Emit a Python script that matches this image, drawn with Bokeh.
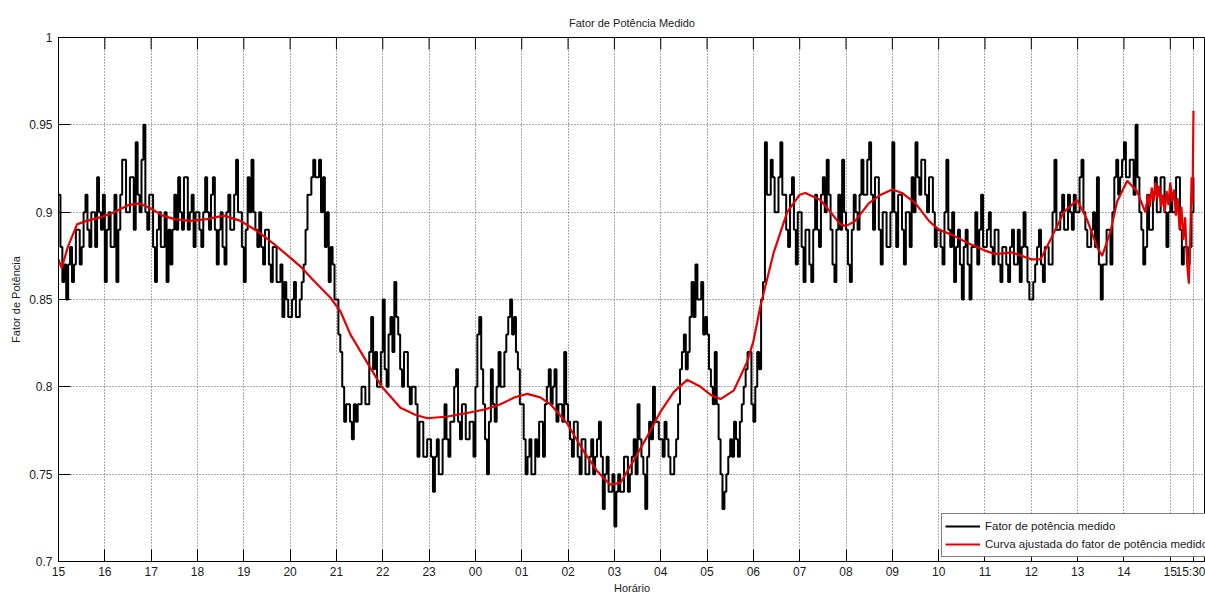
from bokeh.plotting import figure
from bokeh.models import FixedTicker, Legend, LegendItem, Range1d
from bokeh.embed import file_html
from bokeh.resources import INLINE

# ---------------- data ----------------
# Measured power factor, one reading every 2.5 minutes from 15:00 to 15:30 next day
sample_minutes = 2.5
fp_medido = [
    # 15h
    0.91, 0.88, 0.86, 0.87, 0.85, 0.87, 0.88, 0.86, 0.87, 0.89, 0.89, 0.87,
    0.88, 0.90, 0.91, 0.89, 0.88, 0.90, 0.90, 0.88, 0.92, 0.90, 0.89, 0.91,
    # 16h
    0.86, 0.89, 0.90, 0.88, 0.88, 0.91, 0.86, 0.89, 0.91, 0.93, 0.93, 0.90,
    0.90, 0.92, 0.92, 0.89, 0.94, 0.91, 0.90, 0.93, 0.95, 0.90, 0.89, 0.91,
    # 17h
    0.91, 0.88, 0.86, 0.89, 0.90, 0.88, 0.88, 0.90, 0.86, 0.89, 0.87, 0.89,
    0.91, 0.89, 0.92, 0.90, 0.89, 0.92, 0.92, 0.89, 0.90, 0.91, 0.88, 0.90,
    # 18h
    0.90, 0.89, 0.88, 0.90, 0.92, 0.90, 0.89, 0.91, 0.92, 0.89, 0.87, 0.89,
    0.90, 0.88, 0.87, 0.90, 0.91, 0.89, 0.89, 0.91, 0.93, 0.90, 0.90, 0.88,
    # 19h
    0.86, 0.89, 0.92, 0.90, 0.93, 0.90, 0.89, 0.88, 0.90, 0.88, 0.87, 0.89,
    0.89, 0.87, 0.86, 0.88, 0.88, 0.86, 0.86, 0.87, 0.84, 0.86, 0.85, 0.84,
    # 20h
    0.84, 0.85, 0.86, 0.84, 0.84, 0.85, 0.86, 0.87, 0.89, 0.91, 0.91, 0.92,
    0.93, 0.92, 0.92, 0.93, 0.90, 0.92, 0.88, 0.90, 0.86, 0.88, 0.87, 0.85,
    # 21h
    0.85, 0.83, 0.82, 0.80, 0.78, 0.79, 0.79, 0.78, 0.77, 0.79, 0.78, 0.79,
    0.79, 0.80, 0.80, 0.79, 0.79, 0.82, 0.84, 0.81, 0.82, 0.80, 0.80, 0.82,
    # 22h
    0.85, 0.81, 0.80, 0.83, 0.84, 0.82, 0.86, 0.84, 0.83, 0.81, 0.80, 0.82,
    0.82, 0.80, 0.79, 0.80, 0.80, 0.79, 0.76, 0.78, 0.78, 0.76, 0.76, 0.77,
    # 23h
    0.77, 0.76, 0.74, 0.76, 0.77, 0.75, 0.75, 0.77, 0.79, 0.77, 0.76, 0.78,
    0.78, 0.80, 0.81, 0.78, 0.77, 0.79, 0.79, 0.77, 0.77, 0.78, 0.78, 0.76,
    # 00h
    0.80, 0.83, 0.84, 0.81, 0.79, 0.77, 0.75, 0.78, 0.81, 0.79, 0.78, 0.80,
    0.82, 0.80, 0.80, 0.82, 0.83, 0.84, 0.85, 0.83, 0.84, 0.82, 0.81, 0.79,
    # 01h
    0.79, 0.77, 0.75, 0.76, 0.77, 0.75, 0.75, 0.77, 0.76, 0.78, 0.78, 0.76,
    0.79, 0.80, 0.81, 0.79, 0.80, 0.81, 0.78, 0.79, 0.79, 0.78, 0.82, 0.79,
    # 02h
    0.78, 0.77, 0.76, 0.78, 0.78, 0.76, 0.75, 0.77, 0.77, 0.75, 0.75, 0.76,
    0.77, 0.75, 0.76, 0.77, 0.78, 0.76, 0.73, 0.75, 0.76, 0.74, 0.74, 0.75,
    # 03h
    0.72, 0.74, 0.75, 0.74, 0.74, 0.76, 0.76, 0.74, 0.75, 0.76, 0.77, 0.75,
    0.79, 0.77, 0.76, 0.75, 0.73, 0.76, 0.78, 0.77, 0.80, 0.78, 0.78, 0.77,
    # 04h
    0.77, 0.76, 0.78, 0.77, 0.76, 0.75, 0.75, 0.76, 0.77, 0.79, 0.81, 0.82,
    0.83, 0.81, 0.82, 0.84, 0.86, 0.84, 0.87, 0.85, 0.85, 0.86, 0.83, 0.84,
    # 05h
    0.83, 0.81, 0.80, 0.79, 0.82, 0.79, 0.77, 0.75, 0.73, 0.74, 0.75, 0.76,
    0.77, 0.76, 0.78, 0.77, 0.76, 0.78, 0.79, 0.80, 0.81, 0.82, 0.82, 0.79,
    # 06h
    0.78, 0.80, 0.82, 0.81, 0.85, 0.86, 0.94, 0.91, 0.91, 0.93, 0.92, 0.90,
    0.90, 0.92, 0.94, 0.91, 0.91, 0.89, 0.88, 0.91, 0.92, 0.89, 0.87, 0.90,
    # 07h
    0.90, 0.88, 0.86, 0.89, 0.89, 0.87, 0.86, 0.89, 0.91, 0.89, 0.88, 0.91,
    0.92, 0.90, 0.93, 0.91, 0.89, 0.87, 0.86, 0.89, 0.91, 0.89, 0.93, 0.90,
    # 08h
    0.89, 0.87, 0.86, 0.89, 0.91, 0.90, 0.89, 0.91, 0.93, 0.91, 0.91, 0.93,
    0.94, 0.91, 0.89, 0.92, 0.92, 0.89, 0.87, 0.90, 0.90, 0.88, 0.88, 0.90,
    # 09h
    0.94, 0.90, 0.88, 0.91, 0.91, 0.89, 0.87, 0.90, 0.90, 0.88, 0.92, 0.90,
    0.94, 0.92, 0.91, 0.93, 0.93, 0.91, 0.90, 0.92, 0.92, 0.90, 0.88, 0.89,
    # 10h
    0.89, 0.88, 0.87, 0.90, 0.93, 0.89, 0.88, 0.90, 0.86, 0.88, 0.89, 0.87,
    0.85, 0.88, 0.89, 0.87, 0.85, 0.88, 0.88, 0.90, 0.87, 0.89, 0.91, 0.88,
    # 11h
    0.88, 0.89, 0.90, 0.88, 0.87, 0.89, 0.89, 0.87, 0.86, 0.88, 0.88, 0.87,
    0.86, 0.88, 0.89, 0.87, 0.87, 0.89, 0.86, 0.88, 0.90, 0.88, 0.86, 0.85,
    # 12h
    0.85, 0.86, 0.87, 0.88, 0.89, 0.87, 0.86, 0.88, 0.88, 0.87, 0.87, 0.90,
    0.93, 0.89, 0.89, 0.90, 0.91, 0.89, 0.89, 0.91, 0.90, 0.89, 0.91, 0.90,
    # 13h
    0.90, 0.92, 0.93, 0.90, 0.89, 0.88, 0.88, 0.89, 0.90, 0.88, 0.92, 0.87,
    0.85, 0.87, 0.87, 0.89, 0.89, 0.87, 0.90, 0.92, 0.93, 0.91, 0.92, 0.93,
    # 14h
    0.94, 0.92, 0.92, 0.93, 0.93, 0.91, 0.95, 0.92, 0.90, 0.89, 0.87, 0.88,
    0.91, 0.89, 0.89, 0.91, 0.92, 0.90, 0.90, 0.92, 0.92, 0.90, 0.88, 0.90,
    # 15h - 15:30
    0.91, 0.90, 0.90, 0.92, 0.92, 0.89, 0.87, 0.88, 0.88, 0.87, 0.88, 0.90,
    0.92,
]
fp_hours = [i * sample_minutes / 60 for i in range(len(fp_medido))]

# Fitted curve (hours elapsed since 15:00, value)
curva_hours = [
    0.0, 0.07, 0.2, 0.4, 0.6, 0.9, 1.2, 1.5, 1.75, 2.0, 2.25, 2.5, 2.85, 3.2, 3.57,
    3.93, 4.3, 4.64, 5.0, 5.22, 5.5, 5.87, 6.09, 6.3, 6.66, 6.98, 7.38, 7.7, 7.96,
    8.4, 8.82, 9.2, 9.54, 9.85, 10.12, 10.4, 10.62, 10.98, 11.34, 11.62, 11.91,
    12.13, 12.42, 12.78, 13.0, 13.28, 13.57, 13.86, 14.1, 14.29, 14.58, 14.86, 15.0,
    15.15, 15.44, 15.73, 16.0, 16.12, 16.45, 16.88, 17.0, 17.2, 17.49, 17.75, 18.0,
    18.21, 18.5, 18.79, 19.0, 19.29, 19.65, 20.0, 20.22, 20.58, 21.0, 21.2, 21.41,
    21.7, 21.99, 22.2, 22.42, 22.53, 22.71, 22.85, 23.07, 23.28, 23.46,
    23.52, 23.56, 23.60, 23.64, 23.68, 23.72, 23.76, 23.80, 23.84, 23.88, 23.92,
    23.96, 24.00, 24.04, 24.08, 24.12, 24.16, 24.20, 24.24, 24.28, 24.32, 24.36,
    24.40, 24.43, 24.46, 24.48, 24.50,
]
curva_values = [
    0.873, 0.868, 0.880, 0.893, 0.895, 0.897, 0.900, 0.904, 0.905, 0.902, 0.898,
    0.896, 0.895, 0.896, 0.898, 0.895, 0.889, 0.882, 0.874, 0.869, 0.861, 0.851,
    0.843, 0.830, 0.814, 0.800, 0.788, 0.784, 0.782, 0.783, 0.785, 0.787, 0.790,
    0.794, 0.796, 0.794, 0.790, 0.779, 0.763, 0.752, 0.744, 0.745, 0.758, 0.775,
    0.786, 0.797, 0.804, 0.800, 0.795, 0.793, 0.798, 0.814, 0.826, 0.846, 0.877,
    0.900, 0.910, 0.911, 0.907, 0.893, 0.892, 0.895, 0.905, 0.910, 0.913, 0.911,
    0.905, 0.895, 0.890, 0.887, 0.882, 0.878, 0.876, 0.877, 0.873, 0.873, 0.884,
    0.900, 0.907, 0.896, 0.880, 0.875, 0.889, 0.906, 0.918, 0.912, 0.900,
    0.910, 0.903, 0.914, 0.906, 0.917, 0.908, 0.915, 0.903, 0.910, 0.900, 0.912,
    0.904, 0.917, 0.906, 0.913, 0.898, 0.908, 0.890, 0.903, 0.884, 0.897, 0.872,
    0.859, 0.885, 0.920, 0.905, 0.958,
]

x_tick_hours = [0, 1, 2, 3, 4, 5, 6, 7, 8, 9, 10, 11, 12, 13, 14, 15, 16, 17, 18,
                19, 20, 21, 22, 23, 24, 24.5]
x_tick_labels = ["15", "16", "17", "18", "19", "20", "21", "22", "23", "00", "01",
                 "02", "03", "04", "05", "06", "07", "08", "09", "10", "11", "12",
                 "13", "14", "15", "15:30"]
y_ticks = [0.7, 0.75, 0.8, 0.85, 0.9, 0.95, 1.0]
y_tick_labels = ["0.7", "0.75", "0.8", "0.85", "0.9", "0.95", "1"]

FONT = "'Liberation Sans', Arial, Helvetica, sans-serif"
TXT = "#1a1a1a"

# ---------------- figure ----------------
W, H = 1205, 597
BORDER_L, BORDER_T, BORDER_B = 58, 37, 36
X0, X1 = 0, 24.76
Y0, Y1 = 0.7, 1.0
TICK_PX = 12

p = figure(width=W, height=H, output_backend="svg", toolbar_location=None,
           x_range=Range1d(X0, X1), y_range=Range1d(Y0, Y1),
           min_border_left=BORDER_L, min_border_right=0, min_border_top=BORDER_T,
           min_border_bottom=BORDER_B, background_fill_color="white",
           border_fill_color="white")
p.outline_line_color = "black"
p.outline_line_width = 1

p.title.text = "Fator de Potência Medido"
p.title.align = "center"
p.title.text_font = FONT
p.title.text_font_size = "11px"
p.title.text_font_style = "normal"
p.title.text_color = TXT
p.title.standoff = 17

xt = FixedTicker(ticks=x_tick_hours)
yt = FixedTicker(ticks=y_ticks)

xa = p.xaxis[0]
xa.ticker = xt
xa.major_label_overrides = {h: l for h, l in zip(x_tick_hours, x_tick_labels)}
xa.axis_label = "Horário"
xa.major_label_standoff = 3
xa.axis_label_standoff = 0

ya = p.yaxis[0]
ya.ticker = yt
ya.major_label_overrides = {v: l for v, l in zip(y_ticks, y_tick_labels)}
ya.axis_label = "Fator de Potência"
ya.major_label_standoff = 6
ya.axis_label_standoff = 4

for ax in [xa, ya]:
    ax.axis_line_color = "black"
    ax.major_tick_line_color = "black"
    ax.major_tick_in = TICK_PX
    ax.major_tick_out = 0
    ax.minor_tick_line_color = None
    ax.major_label_text_font = FONT
    ax.major_label_text_color = TXT
    ax.major_label_text_font_size = "12px"
    ax.axis_label_text_font = FONT
    ax.axis_label_text_font_style = "normal"
    ax.axis_label_text_color = TXT
    ax.axis_label_text_font_size = "11px"

# inward ticks on the top edge of the box (same tick positions as the x axis)
frame_h = H - BORDER_T - BORDER_B
tick_len = TICK_PX * (Y1 - Y0) / frame_h
p.segment(x0=x_tick_hours, y0=[Y1] * len(x_tick_hours),
          x1=x_tick_hours, y1=[Y1 - tick_len] * len(x_tick_hours),
          line_color="black", line_width=1)

p.xgrid.ticker = xt
p.ygrid.ticker = yt
for g in [p.xgrid[0], p.ygrid[0]]:
    g.grid_line_color = "#3c3c3c"
    g.grid_line_dash = "1 2"
    g.grid_line_width = 1
    g.grid_line_alpha = 0.85

r_med = p.step(fp_hours, fp_medido, mode="after", line_color="black", line_width=2)
r_fit = p.line(curva_hours, curva_values, line_color="#e60000", line_width=2.2)

legend = Legend(items=[LegendItem(label="Fator de potência medido", renderers=[r_med]),
                       LegendItem(label="Curva ajustada do fator de potência medido",
                                  renderers=[r_fit])],
                location=(883, 4), orientation="vertical")
legend.border_line_color = "black"
legend.border_line_width = 1
legend.background_fill_color = "white"
legend.background_fill_alpha = 1
legend.label_text_font = FONT
legend.label_text_font_size = "11.5px"
legend.label_text_color = TXT
legend.glyph_width = 35
legend.glyph_height = 18
legend.label_height = 18
legend.label_standoff = 5
legend.spacing = 0
legend.padding = 3
legend.margin = 0
p.add_layout(legend)

open("out.html", "w").write(file_html(p, INLINE))
